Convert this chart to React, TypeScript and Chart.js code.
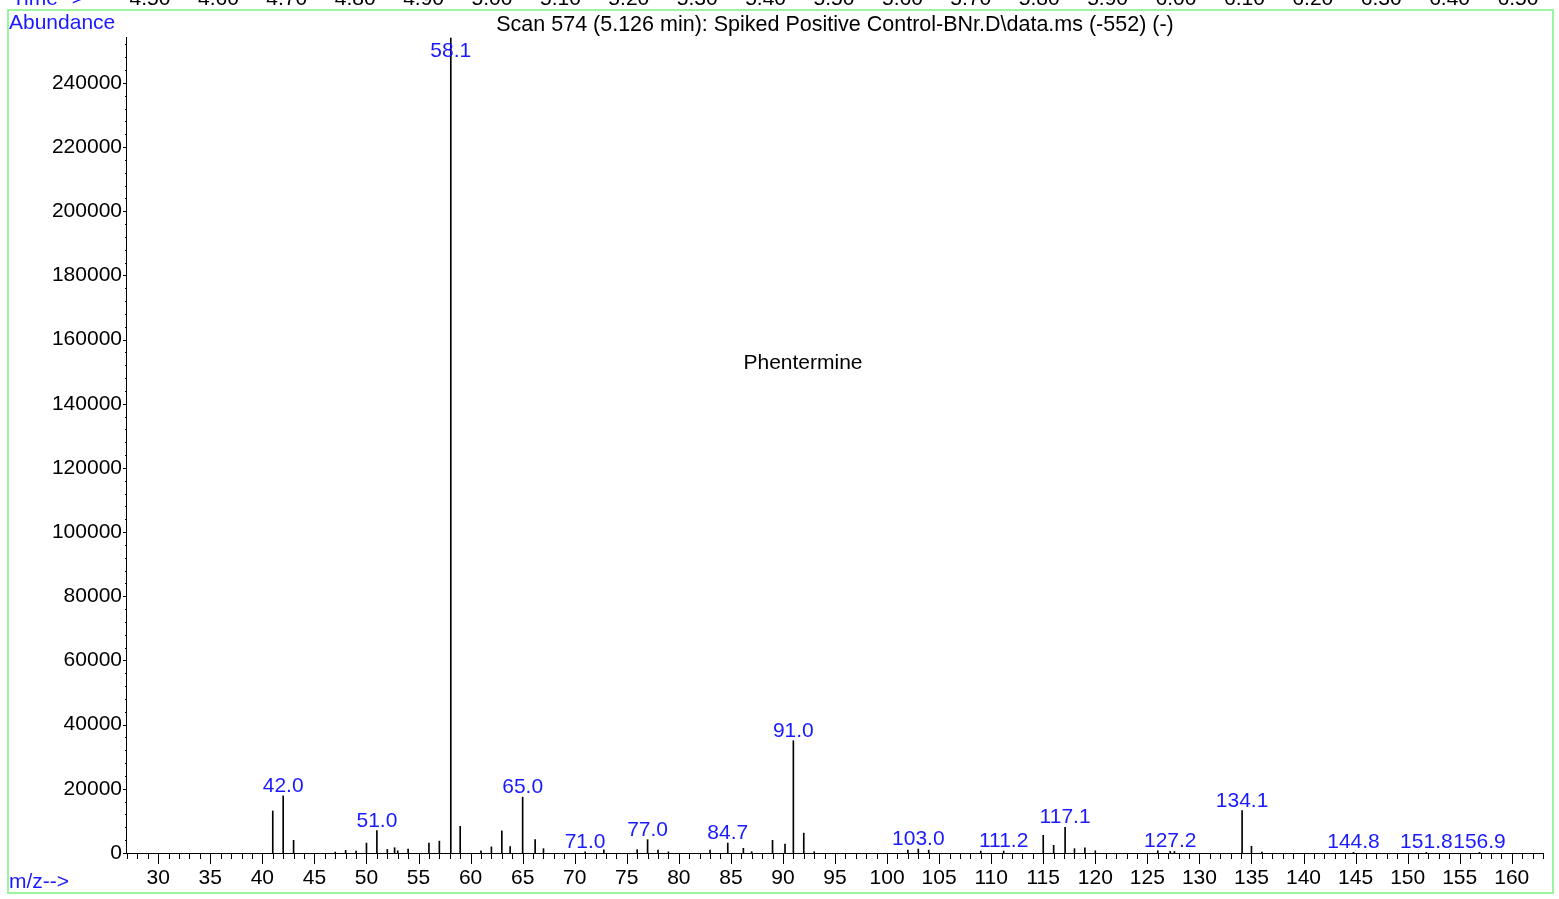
import React, { useEffect, useRef } from "react";
import { Chart, registerables } from "chart.js";

Chart.register(...registerables);

// m/z positions and abundances of the spectrum lines
const mzValues = [
  41.0, 42.0, 43.0, 47.0, 48.0, 49.0, 50.0, 51.0, 52.0, 52.7, 53.0, 54.0, 56.0, 57.0, 58.1, 59.0,
  61.0, 62.0, 63.0, 63.8, 65.0, 66.2, 67.0, 71.0, 72.8, 76.0, 77.0, 78.0, 79.0, 83.0, 84.7, 86.2,
  87.0, 89.0, 90.2, 91.0, 92.0, 93.0, 102.0, 103.0, 104.0, 109.0, 111.2, 115.0, 116.0, 117.1,
  118.0, 119.0, 120.0, 126.0, 127.2, 127.6, 134.1, 135.0, 136.0, 144.8, 151.8, 156.9,
];
const abundances = [
  13100, 17800, 3950, 300, 800, 600, 3100, 7000, 1100, 1650, 700, 1250, 3100, 3700, 254000, 8300,
  700, 1900, 6900, 2000, 17400, 4150, 1350, 400, 1000, 1050, 4150, 900, 350, 900, 3100, 1450,
  400, 3950, 2800, 35000, 6200, 400, 900, 1250, 900, 600, 600, 5500, 2400, 8000,
  1350, 1650, 700, 700, 500, 500, 13200, 2100, 300, 200, 200, 200,
];
// labelled peaks
const peakLabels = [58.1, 42.0, 51.0, 65.0, 71.0, 77.0, 84.7, 91.0, 103.0, 111.2, 117.1, 127.2, 134.1, 144.8, 151.8, 156.9];
// axis tick labels
const xTickValues = [30, 35, 40, 45, 50, 55, 60, 65, 70, 75, 80, 85, 90, 95, 100, 105, 110, 115, 120, 125, 130, 135, 140, 145, 150, 155, 160];
const yTickValues = [0, 20000, 40000, 60000, 80000, 100000, 120000, 140000, 160000, 180000, 200000, 220000, 240000];
// retention-time strip labels at the top (cut off)
const timeLabels = [
  "4.50", "4.60", "4.70", "4.80", "4.90", "5.00", "5.10", "5.20", "5.30", "5.40", "5.50",
  "5.60", "5.70", "5.80", "5.90", "6.00", "6.10", "6.20", "6.30", "6.40", "6.50",
];
const titleText = "Scan 574 (5.126 min): Spiked Positive Control-BNr.D\\data.ms (-552) (-)";
const compoundName = "Phentermine";

const X_MIN = 27;
const X_MAX = 163;
const Y_MAX = 254300;
const FONT = "'Liberation Sans', Arial, Helvetica, sans-serif";
const BLUE = "#1a1aff";

const overlayPlugin = {
  id: "overlay",
  afterDraw(chart: any) {
    const ctx = chart.ctx as CanvasRenderingContext2D;
    const xs = chart.scales.x;
    const ys = chart.scales.y;
    const { left, right, top, bottom } = chart.chartArea;
    ctx.save();

    // green frame
    ctx.strokeStyle = "#9cf59c";
    ctx.lineWidth = 2;
    ctx.strokeRect(8, 10, 1545, 883);

    // top time strip (cut off)
    ctx.font = `21px ${FONT}`;
    ctx.textBaseline = "alphabetic";
    ctx.textAlign = "left";
    ctx.fillStyle = BLUE;
    ctx.fillText("Time-->", 12, 5);
    ctx.fillStyle = "#000";
    ctx.textAlign = "center";
    timeLabels.forEach((t, i) => ctx.fillText(t, 150 + i * 68.4, 5));

    // axis captions
    ctx.textAlign = "left";
    ctx.fillStyle = BLUE;
    ctx.fillText("Abundance", 9, 29);
    ctx.fillText("m/z-->", 9, 888);

    // title and compound name
    ctx.fillStyle = "#000";
    ctx.textAlign = "center";
    ctx.font = `21.5px ${FONT}`;
    ctx.fillText(titleText, 835, 31);
    ctx.font = `21px ${FONT}`;
    ctx.fillText(compoundName, 803, 369);

    // axes lines
    ctx.strokeStyle = "#000";
    ctx.lineWidth = 1;
    ctx.beginPath();
    ctx.moveTo(Math.round(left) - 0.5, top);
    ctx.lineTo(Math.round(left) - 0.5, bottom);
    ctx.moveTo(left, Math.round(bottom) + 0.5);
    ctx.lineTo(right, Math.round(bottom) + 0.5);
    // x ticks
    for (let v = X_MIN; v <= X_MAX; v++) {
      const px = Math.round(xs.getPixelForValue(v)) + 0.5;
      const len = v % 5 === 0 ? 11 : 6;
      ctx.moveTo(px, Math.round(bottom));
      ctx.lineTo(px, Math.round(bottom) + len);
    }
    // y ticks
    for (let v = 0; v <= Y_MAX; v += 4000) {
      const py = Math.round(ys.getPixelForValue(v)) + 0.5;
      const len = v % 20000 === 0 ? 4 : 2;
      ctx.moveTo(Math.round(left) - len, py);
      ctx.lineTo(Math.round(left), py);
    }
    ctx.stroke();

    // peak labels
    ctx.fillStyle = BLUE;
    ctx.textAlign = "center";
    ctx.textBaseline = "alphabetic";
    peakLabels.forEach((mz) => {
      const idx = mzValues.findIndex((m) => Math.abs(m - mz) < 0.01);
      const val = idx >= 0 ? abundances[idx] : 0;
      const barTop = ys.getPixelForValue(Math.min(val, Y_MAX));
      const baseline = Math.max(barTop - 4, top + 20);
      ctx.fillText(mz.toFixed(1), xs.getPixelForValue(mz), baseline);
    });

    ctx.restore();
  },
};

export default function App() {
  const canvasRef = useRef<HTMLCanvasElement | null>(null);

  useEffect(() => {
    const canvas = canvasRef.current;
    if (!canvas) return;
    const chart = new Chart(canvas, {
      type: "bar",
      data: {
        datasets: [
          {
            data: mzValues.map((m, i) => ({ x: m, y: abundances[i] })),
            backgroundColor: "#000",
            borderWidth: 0,
            barThickness: 1,
          } as any,
        ],
      },
      options: {
        responsive: false,
        animation: false,
        devicePixelRatio: 1,
        layout: { padding: { top: 37, right: 16, left: 0, bottom: 0 } },
        plugins: {
          legend: { display: false },
          tooltip: { enabled: false },
          title: { display: false },
        },
        scales: {
          x: {
            type: "linear",
            min: X_MIN,
            max: X_MAX,
            offset: false,
            grid: { display: false, drawTicks: false },
            border: { display: false },
            afterBuildTicks: (s: any) => {
              s.ticks = xTickValues.map((v) => ({ value: v }));
            },
            ticks: {
              autoSkip: false,
              maxRotation: 0,
              padding: 13,
              color: "#000",
              font: { family: FONT, size: 21 },
              callback: (v: any) => String(v),
            },
            afterFit: (s: any) => {
              s.height = 46;
            },
          },
          y: {
            type: "linear",
            min: 0,
            max: Y_MAX,
            grid: { display: false, drawTicks: false },
            border: { display: false },
            afterBuildTicks: (s: any) => {
              s.ticks = yTickValues.map((v) => ({ value: v }));
            },
            ticks: {
              autoSkip: false,
              padding: 5,
              color: "#000",
              font: { family: FONT, size: 21 },
              callback: (v: any) => String(v),
            },
            afterFit: (s: any) => {
              s.width = 127;
            },
          },
        },
      },
      plugins: [overlayPlugin],
    });
    return () => chart.destroy();
  }, []);

  return (
    <div style={{ position: "fixed", left: 0, top: 0, width: 1559, height: 899, background: "#fff" }}>
      <canvas ref={canvasRef} width={1559} height={899} style={{ display: "block" }} />
    </div>
  );
}
